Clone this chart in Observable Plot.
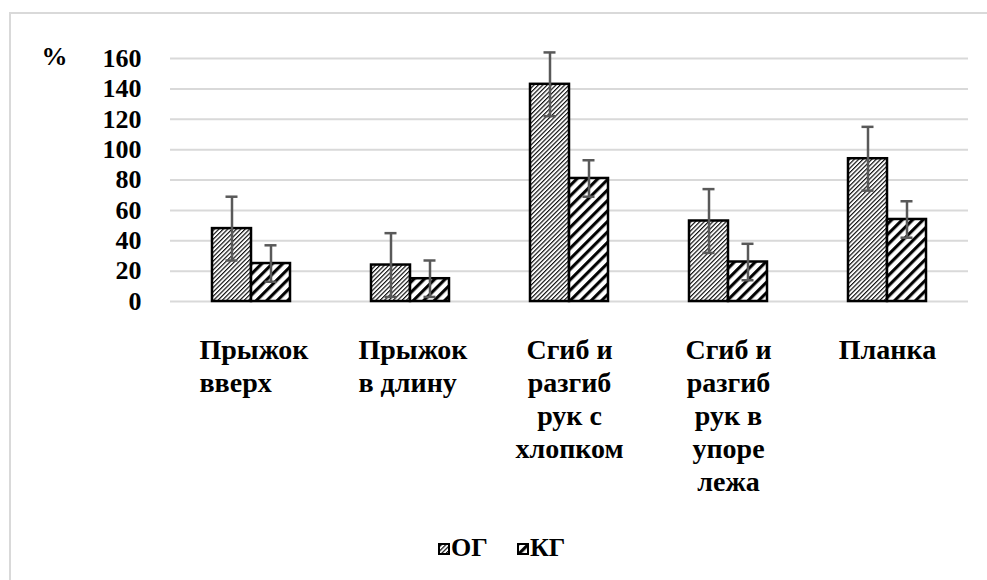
<!DOCTYPE html>
<html>
<head>
<meta charset="utf-8">
<script src="https://cdn.jsdelivr.net/npm/d3@7"></script>
<script src="https://cdn.jsdelivr.net/npm/@observablehq/plot@0.6"></script>
<style>
  body { margin: 0; background: #fff; font-family: 'Liberation Serif', 'Times New Roman', serif; }
  #wrap { position: relative; width: 987px; height: 580px; overflow: hidden; }
  #frame { position: absolute; left: 9px; top: 12px; width: 1000px; height: 600px;
           border-left: 2px solid #d9d9d9; border-top: 2px solid #d9d9d9; }
  #chart { position: absolute; left: 0; top: 0; }
  #chart svg, #chart svg text { font-family: 'Liberation Serif', 'Times New Roman', serif !important; font-weight: bold; }
  .leg { position: absolute; font-family: 'Liberation Serif', 'Times New Roman', serif; font-weight: bold; font-size: 26px; line-height: 26px; color: #000; }
  .sw { position: absolute; }
</style>
</head>
<body>
<div id="wrap">
  <div id="frame"></div>
  <div id="chart"></div>
  <div id="legend"></div>
</div>
<script>
// ---- data ----
const categories = [
  "Прыжок\nвверх",
  "Прыжок\nв длину",
  "Сгиб и\nразгиб\nрук с\nхлопком",
  "Сгиб и\nразгиб\nрук в\nупоре\nлежа",
  "Планка"
];
const seriesNames = ["ОГ", "КГ"];
const ogValues = [48, 24, 143, 53, 94];
const kgValues = [25, 15, 81, 26, 54];
const ogErrors = [21, 21, 21, 21, 21];
const kgErrors = [12, 12, 12, 12, 12];
const yTicks = [0, 20, 40, 60, 80, 100, 120, 140, 160];
const yUnit = "%";

// ---- table ----
const rows = categories.map((c, i) => ({
  cat: c, og: ogValues[i], kg: kgValues[i], ogErr: ogErrors[i], kgErr: kgErrors[i]
}));

const errColor = "#595959";
const font = "'Liberation Serif', 'Times New Roman', serif";
const tickTxt = { fontSize: 26, fontWeight: "bold", fontFamily: font };
const catTxt = { fontSize: 28, fontWeight: "bold", fontFamily: font };

const chart = Plot.plot({
  width: 987,
  height: 580,
  marginLeft: 170,
  marginRight: 19,
  marginTop: 58,
  marginBottom: 279,
  style: "font-family: 'Liberation Serif', 'Times New Roman', serif; font-weight: bold; font-size: 26px; color: #000; background: transparent;",
  x: { domain: categories, paddingInner: 0.511, paddingOuter: 0.2555, axis: null },
  y: { domain: [0, 160], label: null, axis: null },
  marks: [
    Plot.gridY(yTicks, { stroke: "#d9d9d9", strokeOpacity: 1, strokeWidth: 2 }),
    Plot.barY(rows, { x: "cat", y: "og", fill: "url(#pat-og)", stroke: "#000", strokeWidth: 2.5, insetRight: 39 }),
    Plot.barY(rows, { x: "cat", y: "kg", fill: "url(#pat-kg)", stroke: "#000", strokeWidth: 2.5, insetLeft: 39 }),
    Plot.ruleX(rows, { x: "cat", y1: d => d.og - d.ogErr, y2: d => d.og + d.ogErr, stroke: errColor, strokeWidth: 2.5, dx: -19.5 }),
    Plot.tickY(rows, { x: "cat", y: d => d.og + d.ogErr, stroke: errColor, strokeWidth: 2.5, insetLeft: 13.5, insetRight: 52.5 }),
    Plot.tickY(rows, { x: "cat", y: d => d.og - d.ogErr, stroke: errColor, strokeWidth: 2.5, insetLeft: 13.5, insetRight: 52.5 }),
    Plot.ruleX(rows, { x: "cat", y1: d => d.kg - d.kgErr, y2: d => d.kg + d.kgErr, stroke: errColor, strokeWidth: 2.5, dx: 19.5 }),
    Plot.tickY(rows, { x: "cat", y: d => d.kg + d.kgErr, stroke: errColor, strokeWidth: 2.5, insetLeft: 52.5, insetRight: 13.5 }),
    Plot.tickY(rows, { x: "cat", y: d => d.kg - d.kgErr, stroke: errColor, strokeWidth: 2.5, insetLeft: 52.5, insetRight: 13.5 }),
    Plot.axisY(yTicks, { tickSize: 0, tickPadding: 29, label: null, ...tickTxt }),
    Plot.text([yUnit], { frameAnchor: "top-left", textAnchor: "start", lineAnchor: "middle", dx: -129, dy: -2, ...tickTxt }),
    // category labels (first two with left-aligned lines, others centered)
    Plot.text(rows, { filter: (d, i) => i < 2, x: "cat", y: 0, text: "cat", textAnchor: "start", lineAnchor: "top",
      dx: -52, dy: 34, lineHeight: 1.18, ...catTxt }),
    Plot.text(rows, { filter: (d, i) => i >= 2, x: "cat", y: 0, text: "cat", textAnchor: "middle", lineAnchor: "top",
      dy: 34, lineHeight: 1.18, ...catTxt })
  ]
});

// patterns
const defs = d3.select(chart).insert("defs", ":first-child");
const pOg = defs.append("pattern").attr("id", "pat-og").attr("patternUnits", "userSpaceOnUse")
  .attr("width", 3.1).attr("height", 3.1).attr("patternTransform", "rotate(45)");
pOg.append("rect").attr("width", 3.1).attr("height", 3.1).attr("fill", "#fff");
pOg.append("line").attr("x1", 0.6).attr("x2", 0.6).attr("y1", 0).attr("y2", 3.1).attr("stroke", "#000").attr("stroke-width", 1.1);
const pKg = defs.append("pattern").attr("id", "pat-kg").attr("patternUnits", "userSpaceOnUse")
  .attr("width", 7.4).attr("height", 7.4).attr("patternTransform", "rotate(45)");
pKg.append("rect").attr("width", 7.4).attr("height", 7.4).attr("fill", "#fff");
pKg.append("line").attr("x1", 1.6).attr("x2", 1.6).attr("y1", 0).attr("y2", 7.4).attr("stroke", "#000").attr("stroke-width", 3.1);

document.getElementById("chart").appendChild(chart);

// legend
const legend = document.getElementById("legend");
const legPos = [{ sw: 438, tx: 451 }, { sw: 517, tx: 530 }];
const patIds = ["pat-og", "pat-kg"];
seriesNames.forEach((name, i) => {
  const sw = d3.create("svg").attr("class", "sw").attr("width", 12).attr("height", 12)
    .style("left", legPos[i].sw + "px").style("top", "543px");
  sw.append("rect").attr("x", 1).attr("y", 1).attr("width", 10).attr("height", 10)
    .attr("fill", `url(#${patIds[i]})`).attr("stroke", "#000").attr("stroke-width", 2);
  legend.appendChild(sw.node());
  const t = document.createElement("div");
  t.className = "leg";
  t.textContent = name;
  t.style.left = legPos[i].tx + "px";
  t.style.top = "535px";
  legend.appendChild(t);
});
</script>
</body>
</html>
